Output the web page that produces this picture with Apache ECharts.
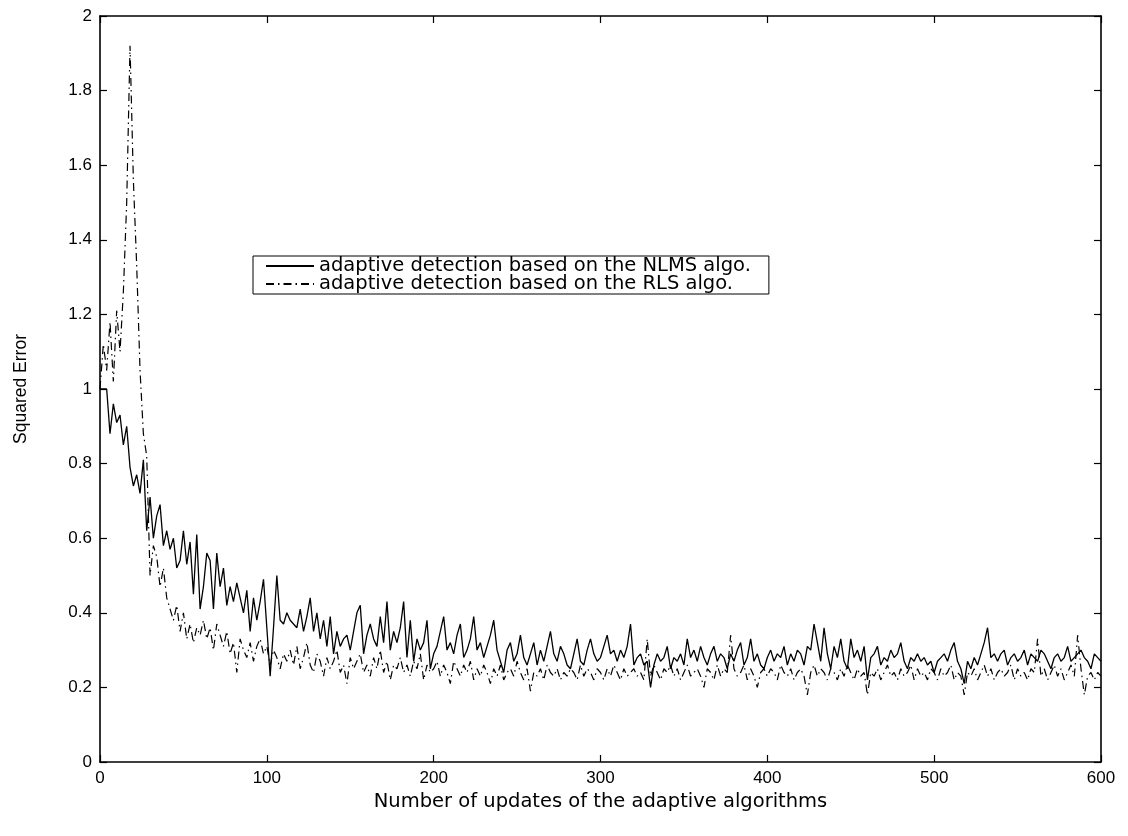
<!DOCTYPE html>
<html>
<head>
<meta charset="utf-8">
<title>Squared Error - NLMS vs RLS</title>
<script src="https://cdn.jsdelivr.net/npm/echarts@6/dist/echarts.min.js"></script>
<style>
  html, body { margin: 0; padding: 0; background: #fff; }
  #chart { width: 1128px; height: 836px; }
</style>
</head>
<body>
<div id="chart"></div>
<script>
// one sample every STEP updates
var STEP = 2;

var xTicks = [0, 100, 200, 300, 400, 500, 600];
var yTicks = [0, 0.2, 0.4, 0.6, 0.8, 1, 1.2, 1.4, 1.6, 1.8, 2];

// squared error of the NLMS based detection (solid)
var nlmsErr = [
  1.00,1.00,1.00,0.88,0.96,0.91,0.93,0.85,0.90,0.79,
  0.74,0.77,0.72,0.81,0.62,0.71,0.60,0.66,0.69,0.58,
  0.62,0.57,0.60,0.52,0.54,0.62,0.53,0.59,0.45,0.61,
  0.41,0.47,0.56,0.54,0.41,0.56,0.47,0.52,0.42,0.47,
  0.43,0.48,0.44,0.40,0.46,0.35,0.44,0.38,0.43,0.49,
  0.36,0.23,0.36,0.50,0.38,0.37,0.40,0.38,0.37,0.36,
  0.41,0.35,0.39,0.44,0.35,0.40,0.33,0.38,0.31,0.39,
  0.29,0.35,0.31,0.33,0.34,0.30,0.35,0.40,0.42,0.29,
  0.34,0.37,0.33,0.31,0.39,0.32,0.43,0.30,0.35,0.32,
  0.36,0.43,0.28,0.38,0.27,0.33,0.30,0.32,0.38,0.25,
  0.29,0.31,0.35,0.39,0.30,0.32,0.29,0.34,0.37,0.28,
  0.30,0.33,0.39,0.30,0.32,0.28,0.31,0.34,0.38,0.30,
  0.27,0.24,0.30,0.32,0.27,0.29,0.34,0.28,0.26,0.29,
  0.32,0.26,0.30,0.27,0.31,0.35,0.29,0.27,0.31,0.29,
  0.26,0.25,0.29,0.33,0.27,0.26,0.30,0.33,0.29,0.27,
  0.28,0.31,0.34,0.29,0.30,0.27,0.30,0.28,0.31,0.37,
  0.26,0.28,0.29,0.26,0.27,0.20,0.26,0.29,0.27,0.28,
  0.31,0.25,0.28,0.27,0.29,0.26,0.33,0.28,0.30,0.27,
  0.31,0.28,0.26,0.29,0.31,0.27,0.29,0.28,0.25,0.29,
  0.27,0.30,0.32,0.26,0.28,0.33,0.27,0.29,0.26,0.25,
  0.28,0.30,0.27,0.29,0.28,0.31,0.26,0.29,0.27,0.30,
  0.29,0.26,0.31,0.30,0.37,0.32,0.27,0.36,0.29,0.25,
  0.31,0.28,0.33,0.27,0.25,0.33,0.28,0.30,0.27,0.31,
  0.22,0.28,0.29,0.31,0.26,0.28,0.27,0.30,0.28,0.29,
  0.32,0.27,0.25,0.28,0.27,0.29,0.27,0.28,0.26,0.27,
  0.24,0.27,0.28,0.29,0.27,0.30,0.32,0.27,0.25,0.21,
  0.27,0.25,0.28,0.26,0.29,0.32,0.36,0.28,0.29,0.27,
  0.29,0.30,0.26,0.28,0.29,0.27,0.28,0.30,0.26,0.29,
  0.28,0.27,0.30,0.29,0.27,0.25,0.28,0.29,0.27,0.28,
  0.31,0.27,0.28,0.29,0.30,0.28,0.27,0.25,0.29,0.28,
  0.27
];

// squared error of the RLS based detection (dash-dot)
var rlsErr = [
  1.00,1.12,1.05,1.18,1.02,1.21,1.10,1.26,1.50,1.92,
  1.56,1.33,1.05,0.88,0.82,0.50,0.58,0.55,0.47,0.52,
  0.44,0.41,0.38,0.42,0.35,0.40,0.33,0.37,0.32,0.36,
  0.34,0.38,0.33,0.36,0.30,0.37,0.34,0.31,0.35,0.29,
  0.32,0.24,0.33,0.30,0.28,0.32,0.27,0.31,0.33,0.29,
  0.31,0.26,0.30,0.28,0.25,0.29,0.27,0.30,0.26,0.31,
  0.25,0.28,0.32,0.26,0.24,0.29,0.27,0.23,0.28,0.25,
  0.27,0.30,0.24,0.26,0.21,0.28,0.25,0.27,0.29,0.24,
  0.26,0.23,0.28,0.25,0.30,0.24,0.27,0.22,0.26,0.25,
  0.28,0.24,0.26,0.23,0.27,0.25,0.29,0.22,0.26,0.24,
  0.25,0.27,0.23,0.26,0.24,0.21,0.27,0.25,0.23,0.26,
  0.24,0.27,0.22,0.25,0.23,0.26,0.24,0.21,0.25,0.23,
  0.26,0.22,0.24,0.25,0.23,0.27,0.24,0.22,0.25,0.19,
  0.24,0.23,0.25,0.22,0.26,0.24,0.23,0.25,0.22,0.24,
  0.23,0.25,0.24,0.22,0.26,0.23,0.25,0.24,0.22,0.25,
  0.24,0.22,0.25,0.23,0.26,0.24,0.22,0.25,0.23,0.24,
  0.25,0.23,0.24,0.22,0.33,0.23,0.26,0.24,0.22,0.25,
  0.24,0.26,0.23,0.25,0.22,0.24,0.26,0.23,0.24,0.25,
  0.23,0.20,0.25,0.24,0.22,0.26,0.23,0.25,0.24,0.34,
  0.25,0.23,0.24,0.26,0.22,0.25,0.23,0.20,0.24,0.25,
  0.23,0.25,0.24,0.22,0.26,0.24,0.23,0.25,0.22,0.24,
  0.25,0.23,0.18,0.24,0.26,0.23,0.25,0.24,0.22,0.25,
  0.24,0.22,0.25,0.23,0.26,0.24,0.22,0.25,0.23,0.24,
  0.18,0.24,0.23,0.25,0.22,0.24,0.26,0.23,0.24,0.22,
  0.25,0.23,0.24,0.26,0.22,0.25,0.23,0.24,0.22,0.25,
  0.24,0.22,0.25,0.23,0.24,0.26,0.22,0.24,0.23,0.18,
  0.24,0.23,0.25,0.22,0.24,0.26,0.23,0.25,0.22,0.24,
  0.25,0.23,0.24,0.26,0.22,0.25,0.23,0.24,0.22,0.25,
  0.24,0.33,0.23,0.25,0.22,0.24,0.26,0.23,0.25,0.22,
  0.24,0.26,0.23,0.34,0.25,0.18,0.23,0.24,0.22,0.24,
  0.23
];

var seriesNames = [
  'adaptive detection based on the NLMS algo.',
  'adaptive detection based on the RLS algo.'
];

function toPoints(values){
  // pair every value with its update number
  var pts = [];
  for(var i = 0; i < values.length; i++){
    pts.push([i * STEP, values[i]]);
  }
  return pts;
}

var TXT = '#000';
var tickFont = { color: TXT, fontFamily: 'Liberation Sans', fontSize: 17 };

function xAx(pos, showLabel){
  return {
    type: 'value', position: pos,
    min: xTicks[0], max: xTicks[xTicks.length - 1], interval: 100,
    axisLine: { show: true, onZero: false, lineStyle: { color: '#000', width: 1.6 } },
    axisTick: { show: true, inside: true, length: 7, lineStyle: { color: '#000', width: 1.2 } },
    axisLabel: Object.assign({ show: showLabel, margin: 8 }, tickFont),
    splitLine: { show: false }
  };
}
function yAx(pos, showLabel){
  return {
    type: 'value', position: pos,
    min: yTicks[0], max: yTicks[yTicks.length - 1], interval: 0.2,
    axisLine: { show: true, onZero: false, lineStyle: { color: '#000', width: 1.6 } },
    axisTick: { show: true, inside: true, length: 7, lineStyle: { color: '#000', width: 1.2 } },
    axisLabel: Object.assign({ show: showLabel, margin: 8 }, tickFont),
    splitLine: { show: false }
  };
}

var bottomX = xAx('bottom', true);
bottomX.name = 'Number of updates of the adaptive algorithms';
bottomX.nameLocation = 'middle';
bottomX.nameGap = 27;
bottomX.nameTextStyle = { color: TXT, fontFamily: 'DejaVu Sans', fontSize: 19.5 };

var leftY = yAx('left', true);
leftY.name = 'Squared Error';
leftY.nameLocation = 'middle';
leftY.nameGap = 70;
leftY.nameTextStyle = { color: TXT, fontFamily: 'Liberation Sans', fontSize: 17.5 };

var chart = echarts.init(document.getElementById('chart'), null, { renderer: 'canvas' });
chart.setOption({
  animation: false,
  backgroundColor: '#fff',
  grid: { left: 100, right: 27, top: 16, bottom: 74, containLabel: false },
  xAxis: [bottomX, xAx('top', false)],
  yAxis: [leftY, yAx('right', false)],
  legend: {
    orient: 'vertical',
    left: 253, top: 256,
    padding: [0, 18, 0, 12],
    itemGap: -2,
    itemWidth: 48, itemHeight: 12,
    backgroundColor: '#fff',
    borderColor: '#000', borderWidth: 1,
    itemStyle: { opacity: 0 },
    textStyle: { color: TXT, fontFamily: 'DejaVu Sans', fontSize: 19.5 },
    data: seriesNames
  },
  series: [
    {
      name: seriesNames[0], type: 'line',
      data: toPoints(nlmsErr),
      showSymbol: false, symbol: 'none',
      lineStyle: { color: '#000', width: 1.3, type: 'solid' },
      itemStyle: { color: '#000' }
    },
    {
      name: seriesNames[1], type: 'line',
      data: toPoints(rlsErr),
      showSymbol: false, symbol: 'none',
      lineStyle: { color: '#000', width: 1.2, type: [8, 4, 1.5, 4] },
      itemStyle: { color: '#000' }
    }
  ]
});
</script>
</body>
</html>
